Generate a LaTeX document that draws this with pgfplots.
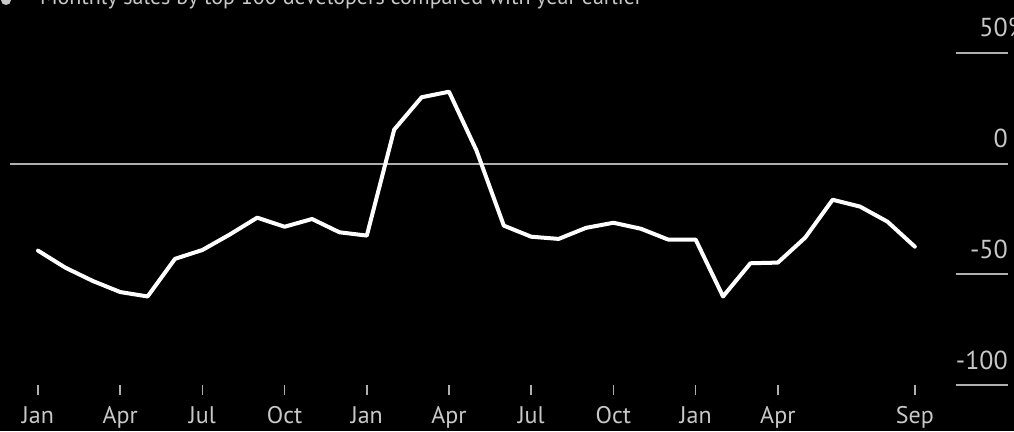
\documentclass[border=0pt]{standalone}
\usepackage{pgfplots}
\pgfplotsset{compat=1.18}
\usepackage{fontspec}
\setmainfont{PT Sans}
\definecolor{txt}{RGB}{200,200,200}
\definecolor{zl}{RGB}{175,175,175}
\begin{document}
\begin{tikzpicture}
\fill[black] (0,0) rectangle (1014pt,431pt);
\path[use as bounding box] (0,0) rectangle (1014pt,431pt);
\clip (0,0) rectangle (1014pt,431pt);
\node[anchor=base west, text=txt, font=\fontsize{22}{26}\selectfont, inner sep=0pt] at (40pt,426pt) {Monthly sales by top 100 developers compared with year earlier};
\fill[txt] (6pt,431pt) circle (5pt);
\begin{axis}[at={(10pt,46pt)}, anchor=south west, scale only axis,
  width=998pt, height=332pt,
  xmin=-1.022, xmax=35.4, ymin=-100, ymax=50,
  axis line style={draw=none},
  ytick=\empty,
  xtick={0,3,6,9,12,15,18,21,24,27,32},
  xticklabels={Jan,Apr,Jul,Oct,Jan,Apr,Jul,Oct,Jan,Apr,Sep},
  xtick pos=bottom, tick align=outside, major tick length=10pt,
  every tick/.style={zl, line width=1.5pt},
  xticklabel style={text=txt, font=\fontsize{24}{28}\selectfont, inner sep=0pt, yshift=-11pt},
  clip=false]
\draw[zl, line width=2pt] (axis cs:-1.022,0) -- (axis cs:35.4,0);
\draw[zl, line width=2pt] (axis cs:33.5,50) -- (axis cs:35.4,50);
\draw[zl, line width=2pt] (axis cs:33.5,-50) -- (axis cs:35.4,-50);
\draw[zl, line width=2pt] (axis cs:33.5,-100) -- (axis cs:35.4,-100);
\node[anchor=base east, text=txt, font=\fontsize{26}{30}\selectfont, inner sep=0pt, yshift=16pt] at (axis cs:35.4,50) {50\rlap{\%}};
\node[anchor=base east, text=txt, font=\fontsize{26}{30}\selectfont, inner sep=0pt, yshift=16pt] at (axis cs:35.4,0) {0};
\node[anchor=base east, text=txt, font=\fontsize{26}{30}\selectfont, inner sep=0pt, yshift=16pt] at (axis cs:35.4,-50) {-50};
\node[anchor=base east, text=txt, font=\fontsize{26}{30}\selectfont, inner sep=0pt, yshift=16pt] at (axis cs:35.4,-100) {-100};
\addplot[white, line width=4pt, line join=round, line cap=round] coordinates {
(0,-39.3) (1,-47) (2,-53) (3,-58) (4,-60) (5,-43) (6,-39) (7,-32) (8,-24.4)
(9,-28.5) (10,-25) (11,-31) (12,-32.5) (13,15.4) (14,30) (15,32.5) (16,6)
(17,-28) (18,-33) (19,-34) (20,-29) (21,-26.7) (22,-29.4) (23,-34.3) (24,-34.3)
(25,-60) (26,-45) (27,-44.7) (28,-33.4) (29,-16.3) (30,-19.4) (31,-26.2) (32,-37.5)
};
\end{axis}
\end{tikzpicture}
\end{document}
